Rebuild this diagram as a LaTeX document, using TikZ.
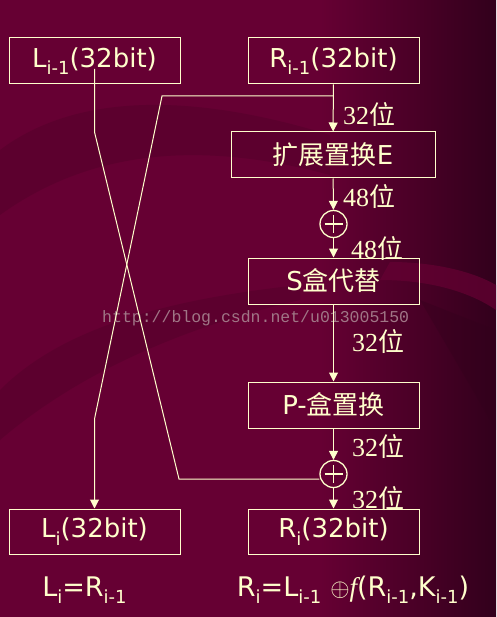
\documentclass[tikz,border=0pt]{standalone}
\usepackage{fontspec}
\setmainfont{DejaVu Sans}
\newfontfamily\cjk{Noto Sans CJK SC}
\newfontfamily\numfont{Liberation Serif}
\newfontfamily\webfont{Liberation Mono}
\usetikzlibrary{arrows.meta}

\definecolor{bgred}{RGB}{102,0,51}
\definecolor{bgdark}{RGB}{50,0,28}
\definecolor{bgshade}{RGB}{86,0,43}
\definecolor{cream}{RGB}{255,255,204}
\definecolor{wmark}{RGB}{160,118,134}

\newcommand{\sub}[1]{\raisebox{-0.28em}{\fontsize{18}{18}\selectfont #1}}
\newcommand{\wei}[1]{{\numfont #1}{\cjk 位}}

\tikzset{
    box/.style={draw=cream, line width=1pt, minimum width=171pt, minimum height=46pt,
        inner sep=0pt, text=cream, font=\fontsize{26}{26}\selectfont},
    wire/.style={draw=cream, line width=1pt},
    arr/.style={wire, -{Triangle[width=9pt,length=9pt]}},
    xor/.style={circle, draw=cream, line width=1.3pt, minimum size=27pt, inner sep=0pt,
        path picture={
            \draw[cream, line width=1.3pt]
                ([yshift=-9pt]path picture bounding box.center) -- ([yshift=9pt]path picture bounding box.center)
                ([xshift=-9pt]path picture bounding box.center) -- ([xshift=9pt]path picture bounding box.center);
        }},
    bits/.style={text=cream, anchor=west, inner sep=0pt, font=\fontsize{26}{26}\selectfont},
    formula/.style={text=cream, anchor=base, inner sep=0pt, font=\fontsize{27}{27}\selectfont},
}

\begin{document}
\begin{tikzpicture}[x=1pt,y=-1pt]

    % background
    \useasboundingbox (0,0) rectangle (496,617);
    \fill[bgred] (0,0) rectangle (496,617);
    \shade[left color=bgred, right color=bgdark] (320,0) rectangle (496,617);
    \fill[bgshade, opacity=0.6] (0,150) .. controls (80,90) and (200,95) .. (330,135)
        -- (330,175) .. controls (200,140) and (90,150) .. (0,215) -- cycle;
    \fill[bgshade, opacity=0.6] (0,390) .. controls (60,330) and (160,300) .. (300,285)
        -- (300,300) .. controls (170,330) and (70,380) .. (0,440) -- cycle;
    \fill[bgred, opacity=0.7] (390,262) .. controls (430,262) and (470,270) .. (496,285)
        -- (496,310) .. controls (470,292) and (430,280) .. (380,280) -- cycle;
    \fill[bgdark, opacity=0.35] (420,300) -- (496,330) -- (496,430) -- cycle;

    % boxes
    \node[box] (Lprev) at (94.5,61) {L\sub{i-1}(32bit)};
    \node[box] (Rprev) at (333.5,61) {R\sub{i-1}(32bit)};
    \node[box, minimum width=204pt] (E) at (333,155) {{\cjk 扩展置换}E};
    \node[xor] (xor1) at (333.5,224) {};
    \node[box] (S) at (333.5,281) {S{\cjk 盒代替}};
    \node[box] (P) at (333.5,405) {P-{\cjk 盒置换}};
    \node[xor] (xor2) at (333.5,474) {};
    \node[box, minimum height=45pt] (Li) at (94.5,531.5) {L\sub{i}(32bit)};
    \node[box, minimum height=45pt] (Ri) at (333.5,531.5) {R\sub{i}(32bit)};

    % bit widths
    \node[bits] (w1) at (343,115) {\wei{32}};
    \node[bits] (w2) at (343,197) {\wei{48}};
    \node[bits] (w3) at (351,249) {\wei{48}};
    \node[bits] (w4) at (352,342) {\wei{32}};
    \node[bits] (w5) at (352,446) {\wei{32}};
    \node[bits] (w6) at (352,498) {\wei{32}};

    \node[anchor=west, inner sep=0pt, text=wmark, font=\webfont\fontsize{16.5}{16.5}\selectfont]
        (url) at (102,318) {http://blog.csdn.net/u013005150};

    % main path
    \draw[arr] (Rprev) -- (E);
    \draw[arr] (E) -- (xor1);
    \draw[arr] (xor1) -- (S);
    \draw[arr] (S) -- (P);
    \draw[arr] (P) -- (xor2);
    \draw[arr] (xor2) -- (Ri);

    % crossing
    \coordinate (rsplit) at (333.5,96);
    \coordinate (rbend) at (162,96);
    \coordinate (rturn) at (94.5,419);
    \draw[arr] (rsplit) -- (rbend) -- (rturn) -- (Li.north);
    \coordinate (lbend) at (94.5,132);
    \coordinate (lturn) at (179,479);
    \draw[wire] ([yshift=-8pt]Lprev.center) -- (lbend) -- (lturn) -- (lturn -| xor2.west);

    % formulas
    \node[formula] (fL) at (84.5,596) {L\sub{i}=R\sub{i-1}};
    \node[formula] (fR) at (353,596) {R\sub{i}=L\sub{i-1}\,\,$\oplus${\numfont\itshape f}(R\sub{i-1},K\sub{i-1})};
\end{tikzpicture}
\end{document}
